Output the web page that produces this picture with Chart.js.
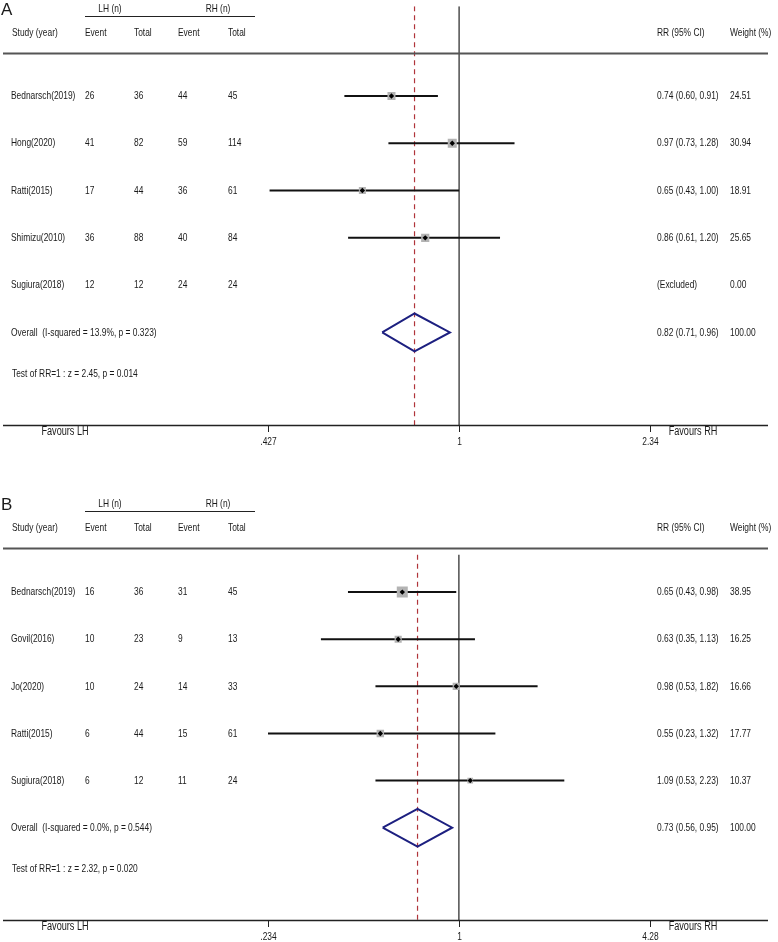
<!DOCTYPE html>
<html lang="en">
<head>
<meta charset="UTF-8">
<title>Forest plots LH vs RH</title>
<style>
  * { margin: 0; padding: 0; box-sizing: border-box; }
  body { background: #fff; width: 778px; height: 942px; overflow: hidden; }
  .wrap { position: relative; width: 778px; height: 942px; }
  canvas { position: absolute; left: 0; }
  #chartA { top: 0; }
  #chartB { top: 495px; }
</style>
<script src="https://cdn.jsdelivr.net/npm/chart.js"></script>
</head>
<body>
<div class="wrap">
  <canvas id="chartA" width="778" height="447"></canvas>
  <canvas id="chartB" width="778" height="447"></canvas>
</div>
<script>
// ---- panel A data ----
const studiesA = ['Bednarsch(2019)', 'Hong(2020)', 'Ratti(2015)', 'Shimizu(2010)', 'Sugiura(2018)'];
const lhEventA = [26, 41, 17, 36, 12];
const lhTotalA = [36, 82, 44, 88, 12];
const rhEventA = [44, 59, 36, 40, 24];
const rhTotalA = [45, 114, 61, 84, 24];
const rrA = [0.74, 0.97, 0.65, 0.86, null];
const loA = [0.60, 0.73, 0.43, 0.61, null];
const hiA = [0.91, 1.28, 1.00, 1.20, null];
const weightA = [24.51, 30.94, 18.91, 25.65, 0.00];
const overallA = [0.82, 0.71, 0.96];          // RR, low, high
const heteroA = ['13.9%', '0.323'];           // I-squared, p
const testA = ['2.45', '0.014'];              // z, p
const ticksA = [0.427, 1, 2.34];
const tickLabelsA = ['.427', '1', '2.34'];

// ---- panel B data ----
const studiesB = ['Bednarsch(2019)', 'Govil(2016)', 'Jo(2020)', 'Ratti(2015)', 'Sugiura(2018)'];
const lhEventB = [16, 10, 10, 6, 6];
const lhTotalB = [36, 23, 24, 44, 12];
const rhEventB = [31, 9, 14, 15, 11];
const rhTotalB = [45, 13, 33, 61, 24];
const rrB = [0.65, 0.63, 0.98, 0.55, 1.09];
const loB = [0.43, 0.35, 0.53, 0.23, 0.53];
const hiB = [0.98, 1.13, 1.82, 1.32, 2.23];
const weightB = [38.95, 16.25, 16.66, 17.77, 10.37];
const overallB = [0.73, 0.56, 0.95];
const heteroB = ['0.0%', '0.544'];
const testB = ['2.32', '0.020'];
const ticksB = [0.234, 1, 4.28];
const tickLabelsB = ['.234', '1', '4.28'];

// layout (rows are 1..5 studies, 6 overall)
const Y_MIN = -43 / 48, Y_MAX = 382 / 48;
const TEST_ROW = 6.88;
const DIAMOND_H = 0.4;
const FONT = "11.5px 'Liberation Sans', Arial, sans-serif";
const SQUEEZE = 0.73;   // narrow face is not installed, so condense by hand

function hline(ctx, x1, x2, y, w, color) {
    ctx.beginPath();
    ctx.lineWidth = w;
    ctx.strokeStyle = color;
    ctx.moveTo(x1, y);
    ctx.lineTo(x2, y);
    ctx.stroke();
}

function txt(ctx, s, x, y, align) {
    ctx.save();
    ctx.translate(x, y);
    ctx.scale(SQUEEZE, 1);
    ctx.textAlign = align || 'left';
    ctx.fillText(s, 0, 0);
    ctx.restore();
}

function textPlugin(p) {
    return {
        id: 'forestText',
        afterDraw(chart) {
            const ctx = chart.ctx, xs = chart.scales.x, ys = chart.scales.y;
            ctx.save();
            ctx.fillStyle = '#1a1a1a';
            ctx.textBaseline = 'middle';
            ctx.font = "17px 'Liberation Sans', Arial, sans-serif";
            ctx.fillText(p.letter, 1, 10);

            ctx.font = FONT;
            txt(ctx, 'LH (n)', 110, 9, 'center');
            txt(ctx, 'RH (n)', 218, 9, 'center');
            hline(ctx, 85, 255, 16.5, 1, '#222');

            const heads = [['Study (year)', 12], ['Event', 85], ['Total', 134], ['Event', 178], ['Total', 228],
                           ['RR (95% CI)', 657], ['Weight (%)', 730]];
            heads.forEach(h => txt(ctx, h[0], h[1], 33));
            hline(ctx, 3, 768, 53.5, 2, '#555');

            p.studies.forEach((s, i) => {
                const y = ys.getPixelForValue(i + 1);
                txt(ctx, s, 11, y);
                txt(ctx, String(p.lhEvent[i]), 85, y);
                txt(ctx, String(p.lhTotal[i]), 134, y);
                txt(ctx, String(p.rhEvent[i]), 178, y);
                txt(ctx, String(p.rhTotal[i]), 228, y);
                const rr = p.rr[i] === null ? '(Excluded)'
                    : `${p.rr[i].toFixed(2)} (${p.lo[i].toFixed(2)}, ${p.hi[i].toFixed(2)})`;
                txt(ctx, rr, 657, y);
                txt(ctx, p.weight[i].toFixed(2), 730, y);
            });

            const yo = ys.getPixelForValue(6);
            txt(ctx, `Overall  (I-squared = ${p.hetero[0]}, p = ${p.hetero[1]})`, 11, yo);
            const o = p.overall;
            txt(ctx, `${o[0].toFixed(2)} (${o[1].toFixed(2)}, ${o[2].toFixed(2)})`, 657, yo);
            txt(ctx, '100.00', 730, yo);
            txt(ctx, `Test of RR=1 : z = ${p.test[0]}, p = ${p.test[1]}`, 12, ys.getPixelForValue(TEST_ROW));

            // bottom axis
            const ay = ys.bottom;
            hline(ctx, 3, 768, ay + 0.5, 1.5, '#222');
            p.ticks.forEach((t, i) => {
                const px = Math.round(xs.getPixelForValue(t)) + 0.5;
                ctx.beginPath();
                ctx.lineWidth = 1;
                ctx.strokeStyle = '#222';
                ctx.moveTo(px, ay);
                ctx.lineTo(px, ay + 7);
                ctx.stroke();
                txt(ctx, p.tickLabels[i], px, ay + 17, 'center');
            });
            ctx.font = "12.5px 'Liberation Sans', Arial, sans-serif";
            txt(ctx, 'Favours LH', 65, ay + 7, 'center');
            txt(ctx, 'Favours RH', 693, ay + 7, 'center');
            ctx.restore();
        }
    };
}

function forest(id, p) {
    const rows = p.studies.map((s, i) => i + 1);
    const shown = rows.filter((r, i) => p.rr[i] !== null);
    const maxW = Math.max(...p.weight);
    const datasets = [];

    // reference lines: null effect and overall estimate
    datasets.push({
        type: 'line', order: 4,
        data: [{ x: 1, y: p.refTop }, { x: 1, y: Y_MAX }],
        borderColor: '#222', borderWidth: 1.2, pointRadius: 0
    });
    datasets.push({
        type: 'line', order: 4,
        data: [{ x: p.overall[0], y: p.refTop }, { x: p.overall[0], y: Y_MAX }],
        borderColor: '#b0343a', borderWidth: 1.2, borderDash: [5, 4], pointRadius: 0
    });

    // confidence intervals
    shown.forEach(r => {
        const i = r - 1;
        datasets.push({
            type: 'line', order: 3,
            data: [{ x: p.lo[i], y: r }, { x: p.hi[i], y: r }],
            borderColor: '#111', borderWidth: 2, pointRadius: 0
        });
    });

    // weight boxes
    datasets.push({
        type: 'scatter', order: 1,
        data: shown.map(r => ({ x: p.rr[r - 1], y: r })),
        pointStyle: 'rect',
        pointRadius: shown.map(r => p.boxMax * Math.sqrt(p.weight[r - 1] / maxW) / Math.SQRT2),
        backgroundColor: '#b3b3b3', borderWidth: 0
    });

    // point estimates
    datasets.push({
        type: 'scatter', order: 0,
        data: shown.map(r => ({ x: p.rr[r - 1], y: r })),
        pointStyle: 'rectRot', pointRadius: 2.7,
        backgroundColor: '#000', borderWidth: 0
    });

    // pooled diamond
    const o = p.overall;
    datasets.push({
        type: 'line', order: 2,
        data: [{ x: o[1], y: 6 }, { x: o[0], y: 6 - DIAMOND_H }, { x: o[2], y: 6 },
               { x: o[0], y: 6 + DIAMOND_H }, { x: o[1], y: 6 }],
        borderColor: '#1d2080', borderWidth: 2, pointRadius: 0, fill: false
    });

    new Chart(document.getElementById(id), {
        data: { datasets },
        options: {
            responsive: false,
            animation: false,
            events: [],
            layout: { padding: { left: 268, right: 128, top: 0, bottom: 22 } },
            scales: {
                x: { type: 'logarithmic', display: false, min: p.ticks[0], max: p.ticks[2] },
                y: { type: 'linear', display: false, reverse: true, min: Y_MIN, max: Y_MAX }
            },
            plugins: { legend: { display: false }, tooltip: { enabled: false } }
        },
        plugins: [textPlugin(p)]
    });
}

forest('chartA', {
    letter: 'A', studies: studiesA, lhEvent: lhEventA, lhTotal: lhTotalA, rhEvent: rhEventA, rhTotal: rhTotalA,
    rr: rrA, lo: loA, hi: hiA, weight: weightA, overall: overallA, hetero: heteroA, test: testA,
    ticks: ticksA, tickLabels: tickLabelsA, boxMax: 9, refTop: Y_MIN
});
forest('chartB', {
    letter: 'B', studies: studiesB, lhEvent: lhEventB, lhTotal: lhTotalB, rhEvent: rhEventB, rhTotal: rhTotalB,
    rr: rrB, lo: loB, hi: hiB, weight: weightB, overall: overallB, hetero: heteroB, test: testB,
    ticks: ticksB, tickLabels: tickLabelsB, boxMax: 11, refTop: 10 / 48
});
</script>
</body>
</html>
